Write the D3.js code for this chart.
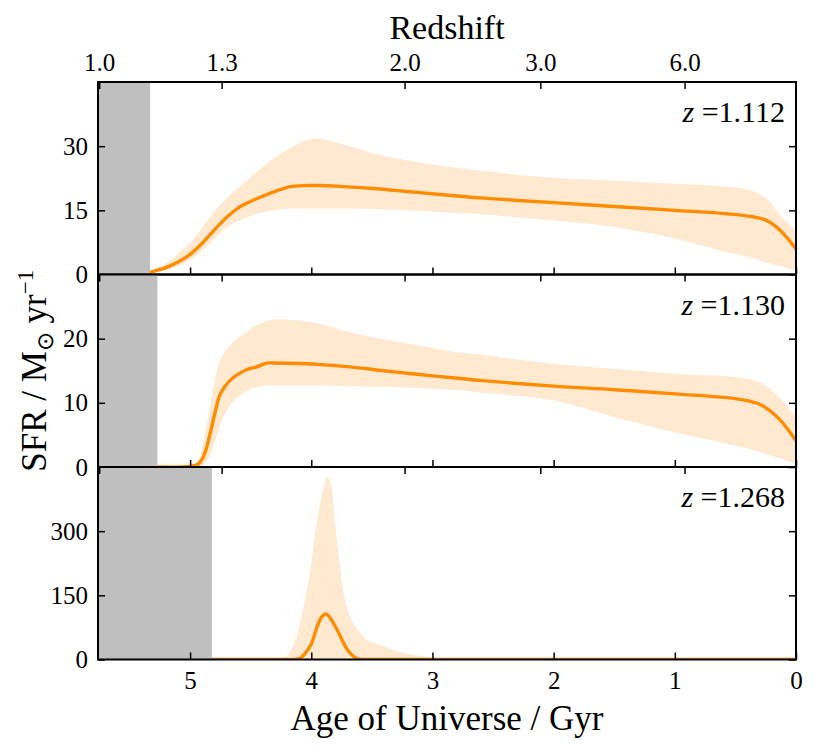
<!DOCTYPE html>
<html>
<head>
<meta charset="utf-8">
<script src="https://cdn.jsdelivr.net/npm/d3@7"></script>
<style>
  body { margin: 0; background: #fff; }
</style>
</head>
<body>
<svg id="chart" width="819" height="754"></svg>
<script>
// age of universe (Gyr) and SFR posteriors
const ages1 = [5.33, 5.2, 5.1, 5.0, 4.9, 4.8, 4.7, 4.59, 4.45, 4.31, 4.18, 4.04, 3.95, 3.76, 3.49, 3.21, 2.94, 2.61, 2.0, 1.5, 1.0, 0.57, 0.38, 0.24, 0.13, 0.0];
const med1 = [0.5, 1.6, 2.9, 4.7, 7.3, 10.4, 13.3, 15.8, 17.7, 19.3, 20.5, 20.8, 20.8, 20.6, 20.1, 19.4, 18.7, 17.9, 16.8, 15.9, 15.0, 14.2, 13.6, 12.6, 10.3, 6.0];
const hi1 = [1.0, 2.6, 4.8, 7.4, 11.0, 14.7, 17.8, 20.5, 24.0, 27.1, 29.5, 31.4, 31.8, 30.6, 28.3, 26.7, 25.5, 24.3, 22.6, 21.9, 21.2, 20.5, 19.7, 17.7, 13.8, 10.3];
const lo1 = [0.3, 1.0, 2.0, 3.4, 5.6, 8.2, 10.9, 12.6, 14.2, 15.0, 15.4, 15.4, 15.4, 15.4, 15.3, 15.0, 14.6, 14.1, 12.6, 11.1, 8.4, 5.2, 4.0, 2.8, 1.9, 0.9];

const ages2 = [5.27, 5.0, 4.93, 4.88, 4.835, 4.79, 4.75, 4.67, 4.53, 4.45, 4.37, 4.31, 3.95, 3.68, 3.4, 3.13, 2.77, 2.61, 2.0, 1.5, 1.0, 0.45, 0.28, 0.14, 0.0];
const med2 = [0.0, 0.1, 0.5, 2.1, 5.2, 8.8, 11.4, 13.5, 15.2, 15.6, 16.2, 16.2, 16.0, 15.6, 15.0, 14.45, 13.8, 13.5, 12.6, 12.05, 11.4, 10.5, 9.6, 7.5, 4.1];
const hi2 = [0.0, 0.1, 1.2, 5.0, 9.5, 14.0, 16.6, 19.0, 21.1, 22.1, 22.7, 23.0, 22.4, 21.0, 19.9, 19.0, 17.8, 17.5, 16.1, 15.3, 14.55, 13.9, 13.0, 10.9, 7.8];
const lo2 = [0.0, 0.0, 0.0, 0.5, 1.8, 4.2, 6.6, 9.7, 11.9, 12.4, 12.7, 12.7, 12.7, 12.6, 12.5, 12.3, 11.95, 11.6, 10.4, 7.8, 5.4, 3.1, 2.2, 1.4, 0.5];

const ages3 = [4.82, 4.35, 4.23, 4.15, 4.09, 4.04, 4.0, 3.95, 3.92, 3.89, 3.87, 3.84, 3.8, 3.77, 3.74, 3.7, 3.65, 3.6, 3.54, 3.4, 3.27, 3.1, 2.99, 2.8, 0.0];
const med3 = [0, 0, 0, 0, 3, 18, 36, 78, 97, 106, 105, 96, 76, 60, 42, 22, 6.5, 0.5, 0, 0, 0, 0, 0, 0, 0];
const hi3 = [0, 0.5, 3, 30, 90, 157, 224, 330, 374, 411, 427, 411, 310, 234, 165, 116, 82, 65, 45, 31, 18, 8, 4, 1, 0];
const lo3 = [0, 0, 0, 0, 0, 0, 0, 0, 0, 0, 0, 0, 0, 0, 0, 0, 0, 0, 0, 0, 0, 0, 0, 0, 0];

const zLabels = ["1.112", "1.130", "1.268"];
const obsAges = [5.33, 5.27, 4.82];
const yMaxes = [45, 30, 450];
const yTickVals = [[0, 15, 30], [0, 10, 20], [0, 150, 300]];

const ageTicks = [5, 4, 3, 2, 1, 0];
const redshiftTicks = ["1.0", "1.3", "2.0", "3.0", "6.0"];
const redshiftAges = [5.75, 4.74, 3.23, 2.11, 0.92];

const font = "'Liberation Serif', serif";
const svg = d3.select("#chart");
const plotLeft = 98, plotRight = 796, plotTop = 82, panelH = 192.5;
const tickLen = 7;

const x = d3.scaleLinear().domain([5.76, 0]).range([plotLeft, plotRight]);
const smooth = d3.curveCatmullRom.alpha(0.5);

const panels = [
  { ages: ages1, med: med1, lo: lo1, hi: hi1 },
  { ages: ages2, med: med2, lo: lo2, hi: hi2 },
  { ages: ages3, med: med3, lo: lo3, hi: hi3 },
].map((p, i) => ({ ...p, z: zLabels[i], obs: obsAges[i], yMax: yMaxes[i], yTicks: yTickVals[i] }));

const styleAxis = (g) => {
  g.select(".domain").remove();
  g.selectAll(".tick line").attr("stroke", "#000").attr("stroke-width", 1.5);
  g.selectAll(".tick text").attr("fill", "#000")
    .style("font-family", font).style("font-size", "25px");
};

panels.forEach((p, i) => {
  const y0 = plotTop + i * panelH;
  const y = d3.scaleLinear().domain([0, p.yMax]).range([y0 + panelH, y0]);
  const g = svg.append("g");

  const clipId = `clip${i}`;
  svg.append("clipPath").attr("id", clipId)
    .append("rect").attr("x", plotLeft).attr("y", y0).attr("width", plotRight - plotLeft).attr("height", panelH);

  const pts = p.ages.map((a, k) => ({ a, m: p.med[k], lo: p.lo[k], hi: p.hi[k] }));

  const plot = g.append("g").attr("clip-path", `url(#${clipId})`);

  plot.append("rect")
    .attr("x", x(x.domain()[0]))
    .attr("y", y0)
    .attr("width", x(p.obs) - x(x.domain()[0]))
    .attr("height", panelH)
    .attr("fill", "#bfbfbf");

  plot.append("path")
    .datum(pts)
    .attr("fill", "#ff8c00")
    .attr("fill-opacity", 0.18)
    .attr("d", d3.area()
      .x((d) => x(d.a))
      .y0((d) => y(d.lo))
      .y1((d) => y(d.hi))
      .curve(smooth));

  plot.append("path")
    .datum(pts)
    .attr("fill", "none")
    .attr("stroke", "#ff8c00")
    .attr("stroke-width", 3.4)
    .attr("d", d3.line()
      .x((d) => x(d.a))
      .y((d) => y(d.m))
      .curve(smooth));

  // y axes, ticks inward on both sides
  g.append("g")
    .attr("transform", `translate(${plotLeft},0)`)
    .call(d3.axisLeft(y).tickValues(p.yTicks).tickSize(-tickLen).tickPadding(10))
    .call(styleAxis);
  g.append("g")
    .attr("transform", `translate(${plotRight},0)`)
    .call(d3.axisRight(y).tickValues(p.yTicks).tickSize(-tickLen).tickFormat(""))
    .call(styleAxis);

  // bottom: age ticks; top: redshift ticks
  g.append("g")
    .attr("transform", `translate(0,${y0 + panelH})`)
    .call(d3.axisBottom(x).tickValues(ageTicks).tickSize(-tickLen).tickPadding(12)
      .tickFormat(i === 2 ? d3.format("d") : ""))
    .call(styleAxis);

  const zAxis = d3.axisTop(x).tickValues(redshiftAges).tickSize(-tickLen)
    .tickFormat((d, k) => (i === 0 ? redshiftTicks[k] : ""))
    .tickPadding(11);
  g.append("g")
    .attr("transform", `translate(0,${y0})`)
    .call(zAxis)
    .call(styleAxis);

  g.append("rect")
    .attr("x", plotLeft).attr("y", y0)
    .attr("width", plotRight - plotLeft).attr("height", panelH)
    .attr("fill", "none").attr("stroke", "#000").attr("stroke-width", 2);

  const zt = g.append("text")
    .attr("x", plotRight - 11)
    .attr("y", y0 + 40)
    .attr("text-anchor", "end")
    .style("font-family", font)
    .style("font-size", "30px");
  zt.append("tspan").style("font-style", "italic").text("z");
  zt.append("tspan").text(" =" + p.z);
});

svg.append("text")
  .attr("x", (plotLeft + plotRight) / 2)
  .attr("y", 39)
  .attr("text-anchor", "middle")
  .style("font-family", font)
  .style("font-size", "34px")
  .text("Redshift");

svg.append("text")
  .attr("x", (plotLeft + plotRight) / 2)
  .attr("y", 730)
  .attr("text-anchor", "middle")
  .style("font-family", font)
  .style("font-size", "35px")
  .text("Age of Universe / Gyr");

const yl = svg.append("text")
  .attr("transform", `translate(46,${plotTop + 1.5 * panelH}) rotate(-90)`)
  .attr("text-anchor", "middle")
  .style("font-family", font)
  .style("font-size", "35px");
yl.append("tspan").text("SFR / M");
yl.append("tspan").attr("dy", 7).style("font-size", "23px").text("⊙");
yl.append("tspan").attr("dy", -7).text(" yr");
yl.append("tspan").attr("dy", -13).style("font-size", "23px").text("−1");
</script>
</body>
</html>
